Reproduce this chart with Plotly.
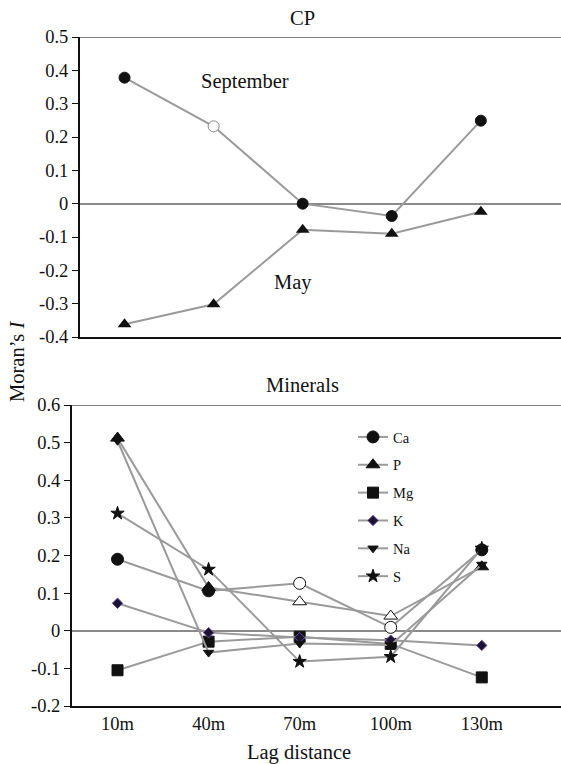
import plotly.graph_objects as go

lags = ["10m", "40m", "70m", "100m", "130m"]

# CP panel
sep_vals = [0.378, 0.232, 0.0, -0.037, 0.249]
may_vals = [-0.362, -0.302, -0.078, -0.090, -0.024]
sep_open = [False, True, False, False, False]

# Minerals panel
ca_vals = [0.190, 0.106, 0.126, 0.009, 0.215]
p_vals = [0.512, 0.115, 0.077, 0.039, 0.170]
mg_vals = [-0.105, -0.029, -0.016, -0.035, -0.124]
k_vals = [0.073, -0.005, -0.018, -0.025, -0.039]
na_vals = [0.505, -0.058, -0.034, -0.038, 0.176]
s_vals = [0.312, 0.163, -0.082, -0.069, 0.219]
ca_open = [False, False, True, True, False]
p_open = [False, False, True, True, False]

top_ticks = [0.5, 0.4, 0.3, 0.2, 0.1, 0.0, -0.1, -0.2, -0.3, -0.4]
top_labels = ["0.5", "0.4", "0.3", "0.2", "0.1", "0", "-0.1", "-0.2", "-0.3", "-0.4"]
bot_ticks = [0.6, 0.5, 0.4, 0.3, 0.2, 0.1, 0.0, -0.1, -0.2]
bot_labels = ["0.6", "0.5", "0.4", "0.3", "0.2", "0.1", "0", "-0.1", "-0.2"]

W, H = 561, 764
FONT = "'Liberation Serif', 'Times New Roman', 'DejaVu Serif', serif"
INK = "#111111"
LINE = "#9a9a9a"

def fills(open_flags, fill=INK):
    return ["white" if o else fill for o in open_flags]

fig = go.Figure()

# ---- CP panel ----
fig.add_trace(go.Scatter(
    x=lags, y=sep_vals, mode="lines+markers", xaxis="x", yaxis="y", showlegend=False,
    line=dict(color=LINE, width=2),
    marker=dict(symbol="circle", size=11, color=fills(sep_open),
                line=dict(color=["#888888" if o else INK for o in sep_open], width=1))))
fig.add_trace(go.Scatter(
    x=lags, y=may_vals, mode="lines+markers", xaxis="x", yaxis="y", showlegend=False,
    line=dict(color=LINE, width=2),
    marker=dict(symbol="triangle-up", size=12, color=INK, line=dict(color=INK, width=0))))

# ---- Minerals panel ----
def mineral(name, vals, symbol, size, fill=INK, edge=INK, open_flags=None):
    of = open_flags if open_flags else [False] * len(vals)
    fig.add_trace(go.Scatter(
        x=lags, y=vals, mode="lines+markers", name=name, xaxis="x2", yaxis="y2",
        legendgroup=name,
        line=dict(color=LINE, width=2),
        marker=dict(symbol=symbol, size=size, color=fills(of, fill),
                    line=dict(color=edge, width=1))))

mineral("Ca", ca_vals, "circle", 12, open_flags=ca_open)
mineral("P", p_vals, "triangle-up", 12, open_flags=p_open)
mineral("Mg", mg_vals, "square", 11)
mineral("K", k_vals, "diamond", 8, fill="#1a1430", edge="#6a4aa0")
mineral("Na", na_vals, "triangle-down", 9)
mineral("S", s_vals, "star", 10)

tick_font = dict(family=FONT, size=18.5, color=INK)

def label(text, x, y, size=20.5, angle=0):
    return dict(text=text, x=x / W, y=1 - y / H, xref="paper", yref="paper",
                xanchor="center", yanchor="middle", textangle=angle,
                showarrow=False, font=dict(family=FONT, size=size, color=INK))

fig.update_layout(
    width=W, height=H,
    margin=dict(l=0, r=0, t=0, b=0),
    paper_bgcolor="white", plot_bgcolor="white",
    font=dict(family=FONT, color=INK),
    xaxis=dict(domain=[80 / W, 1], anchor="y", type="category", range=[-0.5, 4.9],
               showticklabels=False, showline=True, linecolor=INK, linewidth=1.5,
               ticks="", showgrid=False, zeroline=False, automargin=False),
    yaxis=dict(domain=[1 - 337 / H, 1 - 37 / H], anchor="x", range=[-0.4, 0.5],
               tickvals=top_ticks, ticktext=top_labels, tickfont=tick_font,
               ticks="outside", ticklen=6, tickcolor=INK, tickwidth=1,
               showline=True, linecolor=INK, linewidth=2,
               showgrid=False, zeroline=True, zerolinecolor="#8a8a8a", zerolinewidth=1.5,
               automargin=False),
    xaxis2=dict(domain=[72 / W, 1], anchor="y2", type="category", range=[-0.5, 4.87],
                tickfont=tick_font,
                showline=True, linecolor=INK, linewidth=1.5,
                ticks="", showgrid=False, zeroline=False, automargin=False),
    yaxis2=dict(domain=[1 - 706 / H, 1 - 405 / H], anchor="x2", range=[-0.2, 0.6],
                tickvals=bot_ticks, ticktext=bot_labels, tickfont=tick_font,
                ticks="outside", ticklen=6, tickcolor=INK, tickwidth=1,
                showline=True, linecolor=INK, linewidth=2,
                showgrid=False, zeroline=True, zerolinecolor="#8a8a8a", zerolinewidth=1.5,
                automargin=False),
    legend=dict(x=353 / W, y=1 - 421 / H, xanchor="left", yanchor="top",
                bgcolor="rgba(0,0,0,0)", tracegroupgap=6, itemwidth=30,
                font=dict(family=FONT, size=14.5, color=INK)),
    shapes=[
        dict(type="line", xref="x domain", yref="y", x0=0, x1=1, y0=0.5, y1=0.5,
             line=dict(color="#555555", width=1.5)),
        dict(type="line", xref="x2 domain", yref="y2", x0=0, x1=1, y0=0.6, y1=0.6,
             line=dict(color="#555555", width=1.5)),
    ],
    annotations=[
        label("CP", 302, 18),
        label("Minerals", 302, 385),
        label("September", 245, 81),
        label("May", 293, 283),
        label("Lag distance", 299, 752),
        label("Moran\u2019s <i>I</i>", 17, 362, angle=-90),
    ],
)

fig.write_html("out.html", config={"displayModeBar": False},
               post_script="document.body.style.margin='0';document.body.style.overflow='hidden';")
